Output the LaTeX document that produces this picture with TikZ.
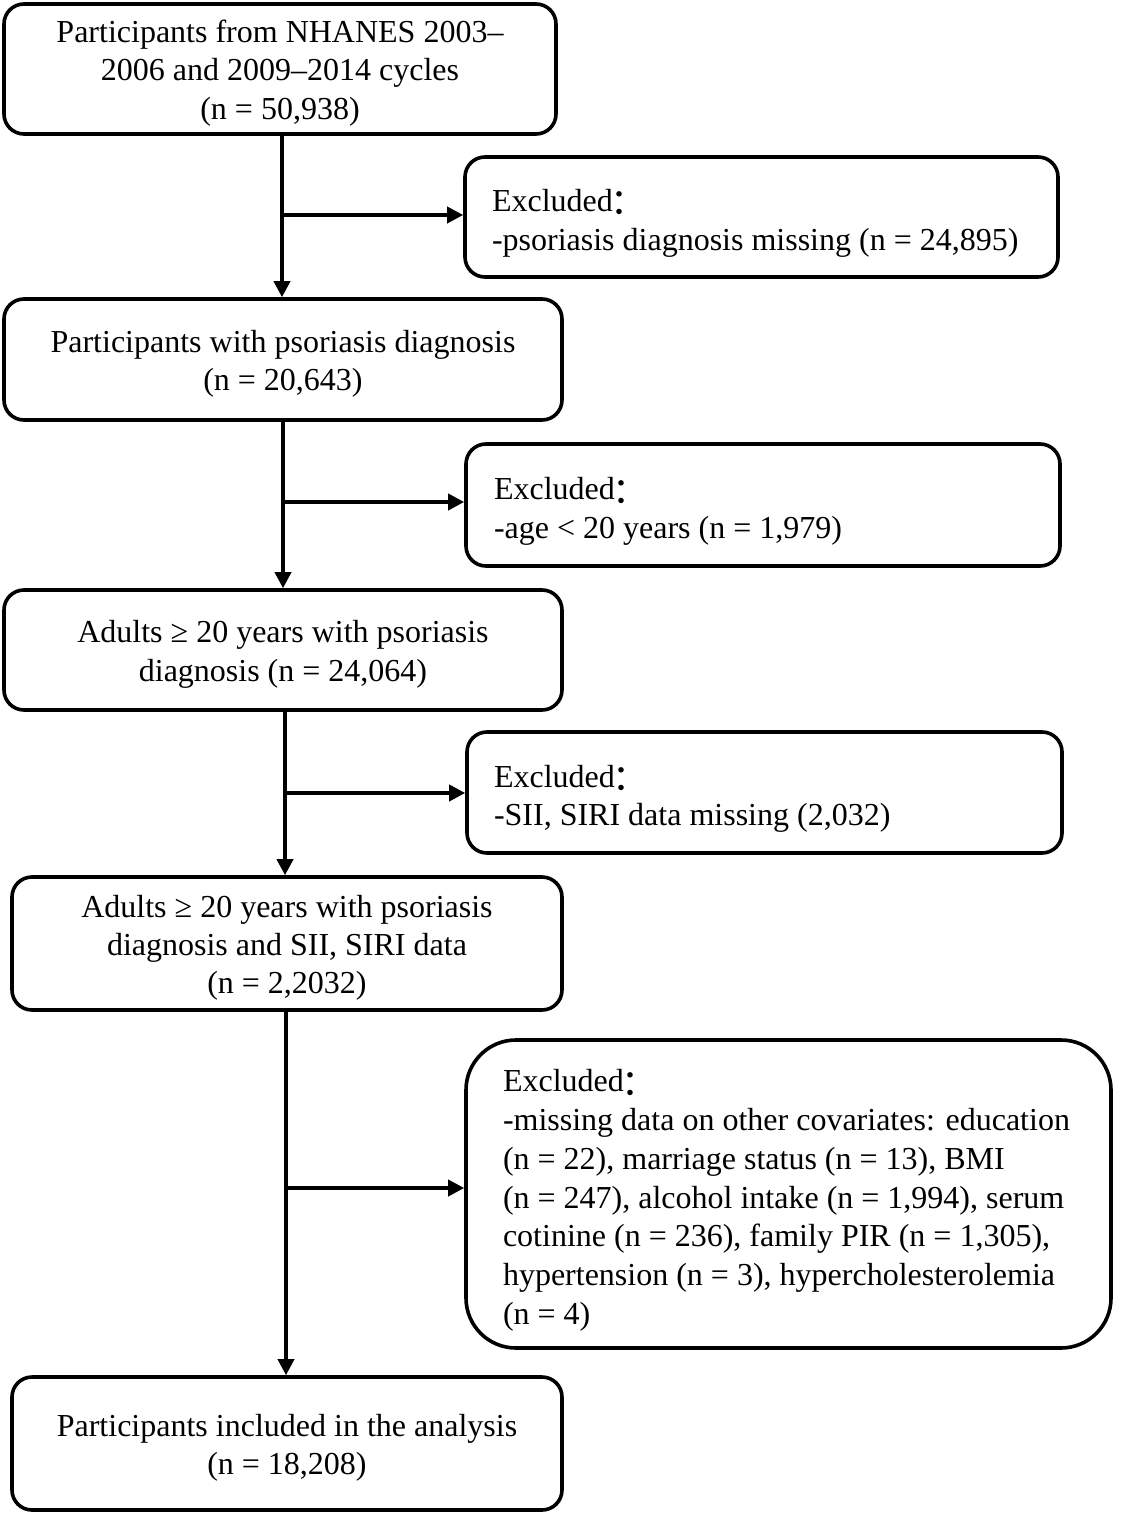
\documentclass[tikz,border=0pt]{standalone}
\usepackage{fontspec}
\setmainfont{Liberation Serif}
\newfontfamily\cjk{Noto Sans CJK SC}
\usetikzlibrary{arrows.meta}
\newcommand\ftop{\rule{0pt}{17pt}}
\newcommand\fbot{\rule[-5pt]{0pt}{0pt}}
\newcommand\etop{\rule{0pt}{18pt}}
\newcommand\ebot{\rule[-4pt]{0pt}{0pt}}
\newcommand\excl{Excluded\hspace{-0.08em}\raisebox{-0.1em}{\cjk\fontsize{18}{19}\selectfont ：}}
\begin{document}
\begin{tikzpicture}[x=0.5pt,y=-0.5pt,
  txt/.style={font=\fontsize{16}{19.2}\selectfont},
  flow/.style={txt,draw,line width=1.8pt,rounded corners=10pt,align=center,inner sep=0pt},
  exclbox/.style={txt,draw,line width=1.8pt,rounded corners=10pt,align=flush left,inner ysep=0pt},
  arr/.style={line width=1.8pt,-{Triangle[length=8pt,width=8pt]}}]
\useasboundingbox (0,0) rectangle (1121,1519);

\node[flow,minimum width=276pt,minimum height=65pt] (b1) at (280,69)
  {\ftop Participants from NHANES 2003–\\2006 and 2009–2014 cycles\\(n = 50,938)\fbot};
\node[exclbox,minimum width=296.5pt,minimum height=60pt,inner xsep=13.5pt,text width=269.5pt] (e1) at (761.5,217)
  {\etop\excl\\-psoriasis diagnosis missing (n = 24,895)\ebot};
\node[flow,minimum width=279pt,minimum height=60.5pt] (b2) at (283,359.5)
  {\ftop Participants with psoriasis diagnosis\\(n = 20,643)\fbot};
\node[exclbox,minimum width=297pt,minimum height=61pt,inner xsep=14pt,text width=269pt] (e2) at (763,505)
  {\etop\excl\\-age < 20 years (n = 1,979)\ebot};
\node[flow,minimum width=279pt,minimum height=60pt] (b3) at (283,650)
  {\ftop Adults ≥ 20 years with psoriasis\\diagnosis (n = 24,064)\fbot};
\node[exclbox,minimum width=297.5pt,minimum height=60.5pt,inner xsep=13.5pt,text width=270.5pt] (e3) at (764.5,792.5)
  {\etop\excl\\-SII, SIRI data missing (2,032)\ebot};
\node[flow,minimum width=275pt,minimum height=66.5pt] (b4) at (287,943.5)
  {\ftop Adults ≥ 20 years with psoriasis\\diagnosis and SII, SIRI data\\(n = 2,2032)\fbot};
\node[exclbox,font=\fontsize{16}{19.35}\selectfont,rounded corners=25pt,minimum width=322.5pt,minimum height=154pt,inner xsep=18.5pt,text width=285.5pt] (e4) at (788.5,1194)
  {\etop\mbox{\excl}\\
   \mbox{-missing data on other covariates: education}\\
   \mbox{(n = 22), marriage status (n = 13), BMI}\\
   \mbox{(n = 247), alcohol intake (n = 1,994), serum}\\
   \mbox{cotinine (n = 236), family PIR (n = 1,305),}\\
   \mbox{hypertension (n = 3), hypercholesterolemia}\\
   \mbox{(n = 4)}\ebot};
\node[flow,minimum width=275pt,minimum height=66.5pt] (b5) at (287,1443.5)
  {\ftop Participants included in the analysis\\(n = 18,208)\fbot};

\coordinate (j1) at (282,215);
\coordinate (j2) at (283,502);
\coordinate (j3) at (285,793);
\coordinate (j4) at (286,1188);

\draw[arr] (b1.south -| j1) -- (b2.north -| j1);
\draw[arr] (j1) -- (j1 -| e1.west);
\draw[arr] (b2.south -| j2) -- (b3.north -| j2);
\draw[arr] (j2) -- (j2 -| e2.west);
\draw[arr] (b3.south -| j3) -- (b4.north -| j3);
\draw[arr] (j3) -- (j3 -| e3.west);
\draw[arr] (b4.south -| j4) -- (b5.north -| j4);
\draw[arr] (j4) -- (j4 -| e4.west);
\end{tikzpicture}
\end{document}
